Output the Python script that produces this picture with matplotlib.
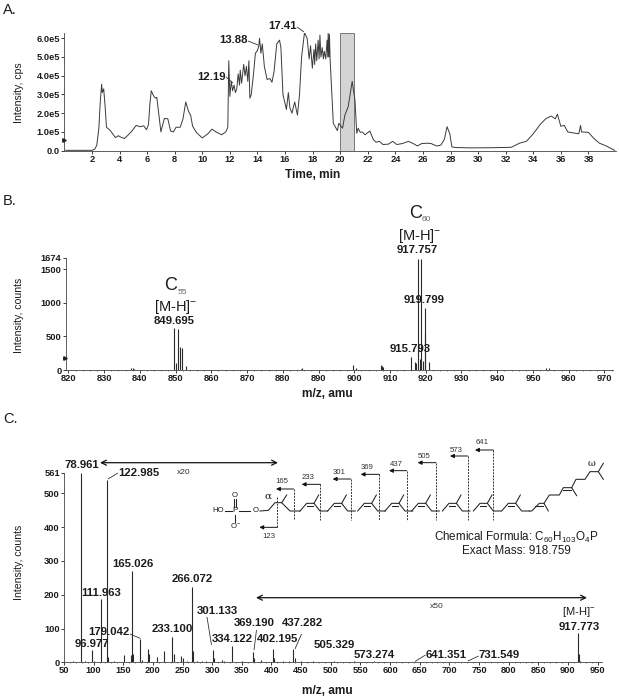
import matplotlib
matplotlib.use('Agg')
import matplotlib.pyplot as plt
from matplotlib.ticker import MultipleLocator

plt.rcParams['font.family'] = ['Liberation Sans', 'DejaVu Sans']
plt.rcParams['mathtext.fontset'] = 'custom'
plt.rcParams['mathtext.rm'] = 'Liberation Sans'
plt.rcParams['mathtext.default'] = 'rm'

W, H = 619, 700
ink = '#1c1c1c'

# panel A: total ion chromatogram, intensity in units of 1e5 cps
time_min = [0.1, 2.0, 2.2, 2.35, 2.5, 2.6, 2.7, 2.75, 2.85, 2.95, 3.05, 3.3, 3.5, 3.7, 3.9, 4.1, 4.35, 4.6, 4.9,
            5.2, 5.5, 5.75, 5.95, 6.1, 6.2, 6.3, 6.45, 6.6, 6.7, 6.85, 7.0, 7.1, 7.25, 7.5, 7.7, 7.9, 8.1, 8.4,
            8.6, 8.8, 9.0, 9.15, 9.3, 9.6, 10.0, 10.4, 10.7, 11.0, 11.4, 11.7, 11.85, 11.92, 12.0, 12.1, 12.2,
            12.3, 12.4, 12.5, 12.6, 12.7, 12.75, 12.85, 13.0, 13.1, 13.2, 13.3, 13.38, 13.45, 13.55, 13.7, 13.85,
            14.0, 14.1, 14.15, 14.25, 14.35, 14.5, 14.7, 14.9, 15.05, 15.2, 15.4, 15.6, 15.7, 15.85, 16.1, 16.24,
            16.35, 16.5, 16.7, 16.9, 17.05, 17.2, 17.41,
            17.6, 17.75, 17.85, 17.98, 18.1, 18.15, 18.22, 18.3, 18.4, 18.47, 18.53, 18.6, 18.7, 18.78, 18.85, 18.95,
            19.05, 19.1, 19.13, 19.18, 19.22, 19.27,
            19.42, 19.5, 19.8, 19.9, 20.17, 20.34, 20.58, 20.87, 21.07,
            21.2, 21.3, 21.45, 21.6, 21.8, 22.15, 22.4, 22.6, 22.85, 23.1, 23.5, 23.8, 24.1, 24.5, 24.95, 25.3,
            25.6, 25.9, 26.3, 26.6, 27.0, 27.3, 27.55, 27.75, 27.95, 28.1, 28.4, 29.5, 31.0, 32.4, 33.0, 33.5,
            34.0, 34.5, 34.9, 35.3, 35.6, 35.75, 36.0, 36.25, 36.5, 36.9, 37.3, 37.43, 37.5, 38.0, 38.4, 38.8,
            39.3, 39.9]
intensity_e5 = [0.02, 0.02, 0.08, 0.3, 1.2, 2.6, 3.55, 3.1, 3.3, 2.4, 1.25, 1.1, 0.9, 0.7, 0.8, 0.72, 0.65, 0.82,
                1.05, 1.35, 1.28, 1.33, 1.12, 1.4, 2.5, 3.2, 2.95, 2.8, 2.85, 1.9, 1.0, 1.3, 1.72, 1.7, 1.05, 1.0,
                1.25, 1.25, 1.7, 2.6, 2.1, 1.9, 1.3, 0.95, 0.68, 0.9, 1.15, 1.0, 0.85, 1.0, 1.25, 4.8, 2.9, 3.7,
                3.2, 3.5, 3.1, 3.3, 4.1, 3.5, 4.3, 3.6, 4.6, 4.0, 4.5, 3.7, 4.8, 2.8, 3.0, 4.0, 5.2, 5.35, 5.6, 6.0,
                5.2, 5.7, 4.5, 3.8, 3.85, 3.65, 4.2, 5.7, 5.9, 5.5, 3.0, 2.2, 3.1, 2.3, 2.0, 2.6, 1.9, 3.0, 5.0, 6.3,
                6.0, 4.9, 5.6, 4.4, 5.4, 4.6, 5.7, 4.8, 5.9, 4.9, 6.17, 5.0, 5.5, 4.9, 5.3, 4.9,
                5.9, 5.0, 6.3, 5.0, 6.2, 4.85,
                2.7, 1.46, 1.07, 1.46, 1.2, 1.9, 2.35, 3.7, 2.7,
                0.93, 1.2, 0.98, 1.0, 0.85, 1.05, 0.6, 0.45, 0.5, 0.33, 0.35, 0.5, 0.33, 0.38,
                0.5, 0.38, 0.25, 0.38, 0.4, 0.38, 0.25, 0.3, 0.6, 1.28, 0.9, 0.2, 0.17, 0.15, 0.16, 0.18, 0.4,
                0.5, 0.9, 1.4, 1.7, 1.85, 1.7, 1.95, 1.3, 1.35, 1.0, 0.95, 0.9, 1.35, 1.0, 0.98, 0.65, 0.4, 0.25, 0.02]
a_yticks = [0, 1, 2, 3, 4, 5, 6]
a_ylabels = ['0.0', '1.0e5', '2.0e5', '3.0e5', '4.0e5', '5.0e5', '6.0e5']
a_xticks = list(range(2, 40, 2))

# panel B: full scan spectrum
b_mz = [837.6, 838.0, 838.5, 849.6, 850.1, 850.7, 851.1, 851.8, 852.9, 885.0, 885.5, 899.6, 900.4, 907.4, 907.7,
        908.1, 915.8, 916.9, 917.3, 917.8, 918.3, 918.8, 919.3, 919.7, 919.9, 920.8, 953.7, 954.6]
b_counts = [30, 30, 15, 627, 100, 613, 350, 330, 60, 20, 25, 70, 25, 70, 60, 40, 196, 120, 100, 1660, 160, 1655, 140,
            930, 540, 120, 30, 25]
b_yticks = [0, 500, 1000, 1500, 1674]
b_xticks = list(range(820, 980, 10))

# panel C: MS/MS spectrum
c_mz = [65, 79, 85, 97, 100, 112, 123, 125, 135, 151, 163, 165, 167, 179, 181, 192, 194, 207, 219, 233, 235, 248, 250,
        258, 266, 268, 275, 283, 290, 301, 303, 316, 320, 334, 350, 369, 371, 382, 402, 404, 420, 430, 437, 439, 450,
        470, 505, 540, 573, 610, 641, 680, 731, 790, 850, 917.8, 918.8, 920]
c_counts = [5, 561, 4, 35, 4, 187, 540, 15, 4, 22, 22, 270, 25, 68, 8, 40, 25, 17, 32, 76, 25, 20, 12, 5, 224, 32, 5,
            5, 4, 37, 12, 6, 4, 48, 4, 29, 12, 6, 38, 12, 4, 5, 38, 12, 5, 3, 3, 3, 5, 2, 2, 2, 2, 2, 2, 86, 25, 5]
c_yticks = [0, 100, 200, 300, 400, 500, 561]
c_xticks = list(range(50, 1000, 50))

fig = plt.figure(figsize=(W / 100, H / 100), dpi=100)


def make_axes(left, right, top, bottom):
    ax = fig.add_axes([left / W, 1 - bottom / H, (right - left) / W, (bottom - top) / H])
    ax.patch.set_alpha(0)
    for s in ['top', 'right']:
        ax.spines[s].set_visible(False)
    for s in ['left', 'bottom']:
        ax.spines[s].set_linewidth(0.6)
        ax.spines[s].set_color('#444444')
    ax.tick_params(length=2, width=0.6, pad=1, labelsize=6.7, colors=ink)
    ax.tick_params(which='minor', length=1, width=0.5, color='#555555')
    return ax


def bold_ticks(ax):
    for t in ax.get_xticklabels() + ax.get_yticklabels():
        t.set_fontweight('bold')


# panel A
axA = make_axes(64.4, 616, 33, 150.7)
axA.axvspan(20, 21, ymin=0, ymax=1, facecolor='#d4d4d4', edgecolor='#777777', linewidth=0.7)
axA.plot(time_min, intensity_e5, color='#3a3a3a', linewidth=0.7)
axA.set_xlim(0, 40)
axA.set_ylim(0, 6.28)
axA.set_xticks(a_xticks)
axA.set_yticks(a_yticks, a_ylabels)
bold_ticks(axA)

# panel B
axB = make_axes(65.7, 613, 257.7, 370)
axB.vlines(b_mz, 0, b_counts, color='#2a2a2a', linewidth=0.8)
axB.set_xlim(819.25, 972.4)
axB.set_ylim(0, 1674)
axB.set_xticks(b_xticks)
axB.xaxis.set_minor_locator(MultipleLocator(2))
axB.set_yticks(b_yticks)
axB.axhline(4, color='#444444', linewidth=0.7)
bold_ticks(axB)

# panel C
axC = make_axes(64, 601.7, 472.7, 662.3)
axC.vlines(c_mz, 0, c_counts, color='#2a2a2a', linewidth=0.8)
axC.set_xlim(50, 957)
axC.set_ylim(0, 561)
axC.set_xticks(c_xticks)
axC.xaxis.set_minor_locator(MultipleLocator(10))
axC.set_yticks(c_yticks)
bold_ticks(axC)

# overlay in pixel coordinates for labels, leaders and the structure drawing
ov = fig.add_axes([0, 0, 1, 1])
ov.set_xlim(0, W)
ov.set_ylim(H, 0)
ov.axis('off')
ov.patch.set_alpha(0)


def txt(x, y, s, size=8, weight='normal', color=ink, **kw):
    ov.text(x, y, s, fontsize=size, fontweight=weight, color=color, ha=kw.pop('ha', 'center'), va='center', **kw)


def seg(x0, y0, x1, y1, lw=0.6, color='#333333', ls='-'):
    ov.plot([x0, x1], [y0, y1], color=color, linewidth=lw, linestyle=ls, solid_capstyle='butt')


def arrow(x0, y0, x1, y1, style='-|>', lw=0.7, scale=6):
    ov.annotate('', xy=(x1, y1), xytext=(x0, y0),
                arrowprops=dict(arrowstyle=style, color='#111111', lw=lw, mutation_scale=scale,
                                shrinkA=0, shrinkB=0))


txt(3, 10, 'A.', 10.5, ha='left')
txt(3, 201, 'B.', 10.5, ha='left')
txt(3, 419, 'C.', 10.5, ha='left')

txt(19, 93, 'Intensity, cps', 7.6, rotation=90)
txt(19, 315, 'Intensity, counts', 7.6, rotation=90)
txt(19, 562, 'Intensity, counts', 7.6, rotation=90)
txt(313, 175, 'Time, min', 8.6, 'bold')
txt(327, 394, 'm/z, amu', 8.6, 'bold')
txt(327, 691, 'm/z, amu', 8.6, 'bold')

# small marker on the left spines
ov.plot([64], [140], marker='>', markersize=2.5, color='#222222', linewidth=0)
ov.plot([64.5], [358], marker='>', markersize=2.5, color='#222222', linewidth=0)

# panel A labels
txt(211, 77, '12.19', 8.2, 'bold')
txt(234, 40, '13.88', 8.2, 'bold')
txt(283, 26, '17.41', 8.2, 'bold')
seg(226, 77, 233, 83)
seg(248, 41, 258, 45)
seg(297, 27, 304, 32)

# panel B labels
txt(171, 286, 'C', 13)
txt(182.7, 293, '55', 6, color='#666666')
txt(176, 307, '[M-H]$^{-}$', 10.5)
txt(174, 320.5, '849.695', 8.2, 'bold')
txt(415.7, 213, 'C', 13)
txt(426, 219.5, '60', 6, color='#666666')
txt(420, 236, '[M-H]$^{-}$', 10.5)
txt(417, 250, '917.757', 8.2, 'bold')
txt(424, 300, '919.799', 8.2, 'bold')
txt(410, 349, '915.793', 8.2, 'bold')

# panel C labels, (x, y, text)
c_labels = [(81.5, 465.5, '78.961'), (139, 473, '122.985'), (132.5, 564, '165.026'), (101, 593, '111.963'),
            (192, 579.5, '266.072'), (217.5, 611.5, '301.133'), (109, 632, '179.042'), (172.7, 629.5, '233.100'),
            (92, 644, '96.977'), (232.7, 638.5, '334.122'), (254, 623.5, '369.190'), (277.5, 638.5, '402.195'),
            (303, 623.5, '437.282'), (334, 645, '505.329'), (374, 654.5, '573.274'), (445.7, 654.5, '641.351'),
            (499.3, 654.5, '731.549')]
for x, y, s in c_labels:
    txt(x, y, s, 8.2, 'bold')
seg(118, 473, 108, 479)
seg(130, 634, 140.5, 638.5)
seg(207, 617, 211.5, 645)
seg(256.5, 630, 254, 650)
seg(301.5, 634, 295, 649)
seg(425.5, 655, 415, 661.5)
seg(478.5, 656, 468, 661)

txt(184, 472, 'x20', 6, color='#333333')
txt(436.7, 607, 'x50', 6, color='#333333')
txt(579, 612, '[M-H]$^{-}$', 8)
txt(579, 626.7, '917.773', 8.2, 'bold')
arrow(100, 462.7, 278, 462.7, '<->', 0.9, 9)
arrow(256, 597.7, 587, 597.7, '<->', 0.9, 9)

# structure, coordinates from the 3x crop at (200, 440)
def sx(v):
    return 200 + v / 3


def sy(v):
    return 440 + v / 3


def chain(points, lw=0.75):
    ov.plot([sx(p[0]) for p in points], [sy(p[1]) for p in points], color='#222222', linewidth=lw)


txt(sx(55), sy(213), 'HO', 5.6)
txt(sx(105), sy(213), 'P', 6)
txt(sx(105), sy(167), 'O', 5.6)
txt(sx(105), sy(257), 'O$^{-}$', 5.6)
txt(sx(166), sy(213), 'O', 5.6)
chain([(75, 213), (95, 213)])
chain([(116, 213), (150, 213)])
chain([(102, 177), (102, 200)])
chain([(108, 177), (108, 200)])
chain([(105, 225), (105, 245)])
chain([(180, 213), (205, 211), (225, 188), (245, 188), (270, 213), (300, 213)])
chain([(245, 188), (260, 165)])
txt(sx(205), sy(170), 'α', 7.5, family='DejaVu Serif')
txt(sx(1175), sy(70), 'ω', 7, family='DejaVu Serif')

unit_starts = [300, 383, 473, 555, 635, 727, 820, 905]
for u in unit_starts:
    chain([(u, 213), (u + 20, 190), (u + 42, 190), (u + 60, 213), (u + 83, 213)])
    chain([(u + 42, 190), (u + 56, 165)])
    chain([(u + 20, 197), (u + 38, 197)])
chain([(988, 213), (995, 213), (1018, 190), (1032, 190), (1045, 213)])
chain([(1005, 197), (1030, 197)])
chain([(1032, 190), (1048, 165), (1078, 165), (1090, 143), (1115, 143), (1130, 167)])
chain([(1088, 150), (1112, 150)])
chain([(1115, 143), (1128, 118), (1155, 118), (1170, 95), (1195, 95), (1210, 70)])
chain([(1195, 95), (1210, 118)])

# cleavage markers: (x, y of elbow, x of arrow tip, label, label x, label y)
cuts = [(281, 147, 228, '165', 245, 125), (361, 133, 305, '233', 325, 112), (452, 117, 398, '301', 417, 96),
        (538, 103, 482, '369', 502, 82), (620, 92, 567, '437', 590, 72), (708, 68, 653, '505', 672, 50),
        (803, 48, 750, '573', 768, 30), (880, 30, 825, '641', 845, 7)]
for x, y, tip, lab, lx, ly in cuts:
    seg(sx(x), sy(y), sx(x), sy(240), 0.7, '#333333', (0, (2, 1.2)))
    arrow(sx(x), sy(y), sx(tip), sy(y), '-|>', 0.7, 6)
    txt(sx(lx), sy(ly), lab, 5.6, color='#333333')
seg(sx(232), sy(170), sx(232), sy(262), 0.7, '#333333', (0, (2, 1.2)))
arrow(sx(232), sy(262), sx(178), sy(262), '-|>', 0.7, 6)
txt(sx(208), sy(290), '123', 5.6, color='#333333')

txt(sx(948), sy(291), 'Chemical Formula: C$_{60}$H$_{103}$O$_{4}$P', 8.4)
txt(sx(948), sy(333), 'Exact Mass: 918.759', 8.4)

plt.savefig('out.png', dpi=100)
